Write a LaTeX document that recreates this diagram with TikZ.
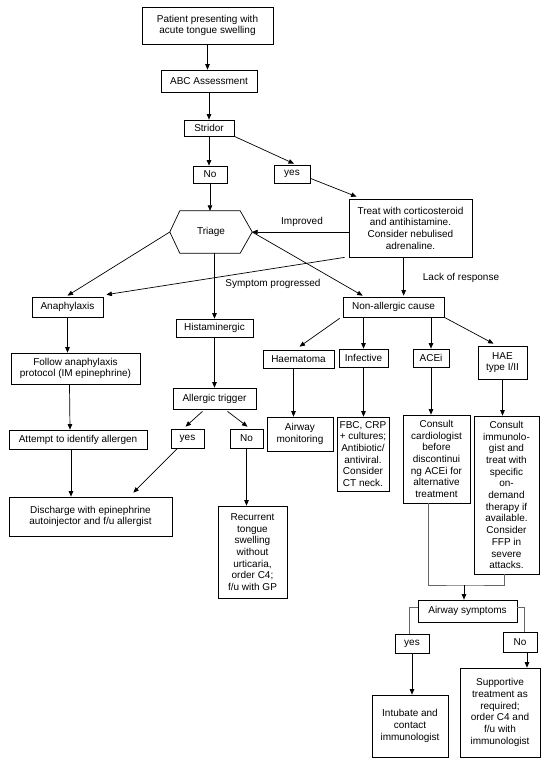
\documentclass[tikz,border=0pt]{standalone}
\usepackage{fontspec}
\setmainfont{Liberation Sans}
\usetikzlibrary{arrows.meta,calc}
\newcommand\bx[6]{\node[box,minimum width=#4pt,minimum height=#5pt] (#1) at (#2,#3) {#6};}
\begin{document}
\begin{tikzpicture}[x=1pt,y=-1pt,
  font=\fontsize{10}{11.7}\selectfont,
  box/.style={draw=black, line width=0.7pt, inner sep=0pt, align=center},
  lbl/.style={inner sep=0pt, align=center},
  arr/.style={draw=black, line width=0.7pt, -{Triangle[length=5.5pt,width=4.5pt]}},
  ln/.style={draw=black!60, line width=0.6pt}]
\useasboundingbox (0,0) rectangle (545,761);
% boxes
\bx{pat}{207.5}{25.5}{131}{37}{Patient presenting with\\acute tongue swelling}
\bx{abc}{209}{81}{96}{22}{ABC Assessment}
\bx{str}{209}{128}{50}{16}{Stridor}
\bx{noA}{210}{174.5}{34}{17}{No}
\bx{yesA}{292}{174}{36}{18}{yes}
\bx{treat}{410.5}{228}{123}{58}{Treat with corticosteroid\\and antihistamine.\\Consider nebulised\\adrenaline.}
\node[lbl, minimum width=82pt, minimum height=42pt] (triage) at (211,232) {Triage};
\draw[line width=0.7pt] (triage.west) -- ($(triage.north west)+(10,0)$) -- ($(triage.north east)+(-12,0)$) -- (triage.east) -- ($(triage.south east)+(-12,0)$) -- ($(triage.south west)+(10,0)$) -- cycle;
\bx{ana}{67.5}{307}{71}{20}{Anaphylaxis}
\bx{hist}{214.5}{328}{77}{18}{Histaminergic}
\bx{nonall}{393.5}{307}{101}{20}{Non-allergic cause}
\bx{follow}{75.5}{368.5}{129}{31}{Follow anaphylaxis\\protocol (IM epinephrine)}
\bx{attempt}{78}{439.5}{138}{19}{Attempt to identify allergen}
\bx{discharge}{90.5}{516.5}{163}{39}{Discharge with epinephrine\\autoinjector and f/u allergist}
\bx{allergic}{214.5}{398.5}{83}{21}{Allergic trigger}
\bx{yesB}{187.5}{438.5}{33}{19}{yes}
\bx{noB}{246.5}{438.5}{33}{19}{No}
\bx{recur}{252.5}{552}{69}{92}{Recurrent\\tongue\\swelling\\without\\urticaria,\\order C4;\\f/u with GP}
\bx{haem}{298.5}{359}{71}{18}{Haematoma}
\bx{infect}{363.5}{358}{49}{18}{Infective}
\bx{acei}{431}{358}{36}{18}{ACEi}
\bx{hae}{502.5}{362.5}{49}{33}{HAE\\type I/II}
\bx{airmon}{300}{434}{66}{34}{Airway\\monitoring}
\bx{fbc}{363}{454}{52}{74}{FBC, CRP\\+ cultures;\\Antibiotic/\\antiviral.\\Consider\\CT neck.}
\bx{cardio}{436.5}{459}{67}{88}{Consult\\cardiologist\\before\\discontinui\\ng ACEi for\\alternative\\treatment}
\bx{immun}{506.5}{495}{65}{158}{Consult\\immunolo-\\gist and\\treat with\\specific\\on-\\demand\\therapy if\\available.\\Consider\\FFP in\\severe\\attacks.}
\bx{airsym}{467.5}{611}{99}{22}{Airway symptoms}
\bx{yesC}{412}{643.5}{34}{19}{yes}
\bx{noC}{520}{642}{34}{20}{No}
\bx{intub}{410}{726}{76}{62}{Intubate and\\contact\\immunologist}
\bx{supp}{500}{712.5}{80}{89}{Supportive\\treatment as\\required;\\order C4 and\\f/u with\\immunologist}
% labels
\node[lbl] (limp) at (302,222) {Improved};
\node[lbl] (lsym) at (273,284) {Symptom progressed};
\node[lbl] (llack) at (461,278) {Lack of response};
% connectors
\draw[arr] (pat.south) -- (pat.south |- abc.north);
\draw[arr] (abc.south) -- (abc.south |- str.north);
\draw[arr] (str.south) -- (str.south |- noA.north);
\draw[arr] (str.south east) -- ($(yesA.north)+(2,-1)$);
\draw[arr] ($(yesA.south east)+(0,-5)$) -- ($(treat.north west)+(8,-2)$);
\draw[arr] (noA.south) -- (noA.south |- triage.north);
\draw[arr] (treat.west |- triage.east) -- (triage.east);
\draw[arr] (triage.east) -- ($(nonall.north west)+(20,-1)$);
\draw[arr] ($(treat.south west)+(-4,0)$) -- ($(ana.north east)+(3,-2)$);
\draw[arr] (triage.west) -- ($(ana.north)+(0,-1)$);
\draw[arr] (hist.north |- triage.south) -- (hist.north);
\draw[arr] ($(treat.south west)+(55,0)$) -- ($(nonall.north west)+(61,-1)$);
\draw[arr] (ana.south) -- (ana.south |- follow.north);
\draw[arr] ($(follow.south)+(-6,0)$) -- ($(attempt.north)+(-8,0)$);
\draw[arr] ($(attempt.south)+(-7,0)$) -- ($(discharge.north)+(-19.5,0)$);
\draw[arr] (hist.south) -- (hist.south |- allergic.north);
\draw[arr] ($(allergic.south)+(-12,2)$) -- ($(yesB.north)+(-2,-2)$);
\draw[arr] ($(allergic.south)+(13,2)$) -- ($(noB.north)+(1,-2)$);
\draw[arr] ($(yesB.south)+(-10,0)$) -- ($(discharge.north east)+(-39,-4)$);
\draw[arr] (noB.south) -- (noB.south |- recur.north);
\draw[arr] ($(nonall.south west)+(-3,1)$) -- ($(haem.north)+(1,-3)$);
\draw[arr] (infect.north |- nonall.south) -- (infect.north);
\draw[arr] (acei.north |- nonall.south) -- (acei.north);
\draw[arr] (nonall.south east) -- ($(hae.north)+(-9,-2)$);
\draw[arr] ($(haem.south)+(-5,0)$) -- ($(airmon.north)+(-6.5,0)$);
\draw[arr] (infect.south) -- (infect.south |- fbc.north);
\draw[arr] (acei.south) -- (acei.south |- cardio.north);
\draw[arr] (hae.south) -- (hae.south |- immun.north);
\coordinate (mrg) at (464,585);
\draw[ln] ($(cardio.south)+(-8,0)$) |- (mrg) -| ($(immun.south)+(-2,0)$);
\draw[arr] (mrg) -- (mrg |- airsym.north);
\draw[ln] ($(airsym.west)+(0,-4)$) -| ($(yesC.north)+(-3,0)$);
\draw[ln] ($(airsym.east)+(0,-4)$) -| ($(noC.north)+(4,0)$);
\draw[arr] (yesC.south) -- (yesC.south |- intub.north);
\draw[arr] ($(noC.south)+(7,0)$) -- ($(supp.north)+(27,0)$);
\end{tikzpicture}
\end{document}
